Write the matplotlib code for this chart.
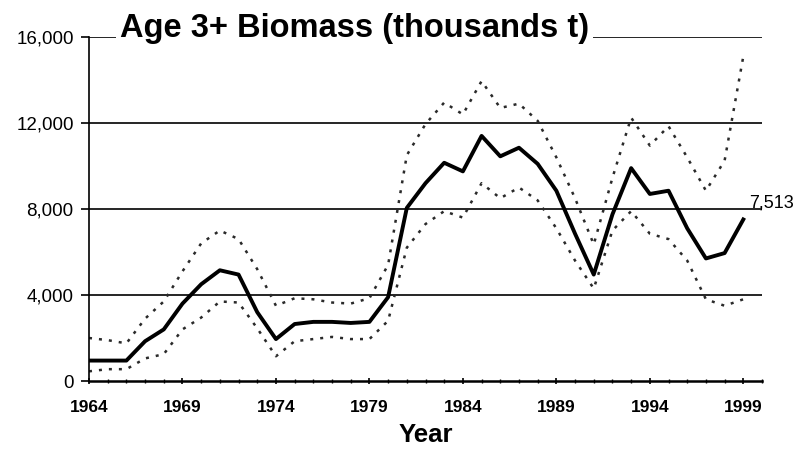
import numpy as np
import matplotlib.pyplot as plt
from matplotlib.ticker import FuncFormatter, MultipleLocator

years = list(range(1964, 2000))
biomass = [950, 950, 950, 1850, 2400, 3600, 4500, 5150, 4950, 3200, 1950, 2650,
           2750, 2750, 2700, 2750, 3900, 8050, 9200, 10150, 9750, 11400, 10450, 10850,
           10100, 8850, 6850, 4950, 7750, 9900, 8700, 8850, 7100, 5700, 5950, 7513]
upper = [2000, 1900, 1750, 2900, 3700, 5100, 6400, 7000, 6600, 5200, 3500, 3850,
         3800, 3650, 3600, 3850, 5400, 10500, 11950, 12950, 12400, 13950, 12700, 12900,
         12100, 10400, 8500, 6350, 9450, 12250, 10950, 11850, 10400, 8850, 10250, 15100]
lower = [450, 550, 550, 1050, 1250, 2400, 2950, 3700, 3650, 2450, 1150, 1850,
         1950, 2050, 1950, 1950, 2800, 6200, 7300, 7900, 7600, 9200, 8500, 9000,
         8400, 7100, 5600, 4300, 7000, 7900, 6850, 6600, 5600, 3800, 3500, 3800]
yticks = [0, 4000, 8000, 12000, 16000]
xticks = [1964, 1969, 1974, 1979, 1984, 1989, 1994, 1999]

plt.rcParams['font.family'] = ['Liberation Sans', 'DejaVu Sans']

fig = plt.figure(figsize=(7.96, 4.51), dpi=100)
ax = fig.add_axes([89 / 796, 1 - 381 / 451, (762 - 89) / 796, (381 - 37) / 451])

for v in yticks[1:]:
    ax.axhline(v, color='black', lw=1.2, zorder=1)

ax.plot(years, upper, color='#2a2a2a', lw=1.8, linestyle=(0, (1.2, 2.8)), zorder=2)
ax.plot(years, lower, color='#2a2a2a', lw=1.8, linestyle=(0, (1.2, 2.8)), zorder=2)
ax.plot(years, biomass, color='black', lw=2.8, zorder=3)

ax.set_xlim(1964, 2000)
ax.set_ylim(0, 16000)
ax.set_yticks(yticks)
ax.yaxis.set_major_formatter(FuncFormatter(lambda v, p: f"{int(v):,}"))
ax.set_xticks(xticks)
ax.xaxis.set_minor_locator(MultipleLocator(1))
ax.tick_params(axis='x', which='major', length=5, width=1.2, direction='inout',
               labelsize=12.5, pad=11)
ax.tick_params(axis='x', which='minor', length=3, width=1, direction='inout')
ax.tick_params(axis='y', length=6, width=1.2, labelsize=13.5, pad=5)
for lab in ax.get_xticklabels():
    lab.set_fontweight('bold')

for s in ['top', 'right']:
    ax.spines[s].set_visible(False)
ax.spines['left'].set_linewidth(1.2)
ax.spines['bottom'].set_linewidth(1.8)

ax.set_xlabel('Year', fontsize=18.5, fontweight='bold', labelpad=6)

ax.text(0.046, 1.0, 'Age 3+ Biomass (thousands t)', transform=ax.transAxes,
        fontsize=23.5, fontweight='bold', va='baseline', ha='left',
        bbox=dict(facecolor='white', edgecolor='none', pad=3), zorder=5)

ax.annotate(f"{biomass[-1]:,}", xy=(years[-1], biomass[-1]), xytext=(2000.5, 7900),
            fontsize=13, ha='center', va='bottom', annotation_clip=False)

fig.savefig('out.png', dpi=100)
